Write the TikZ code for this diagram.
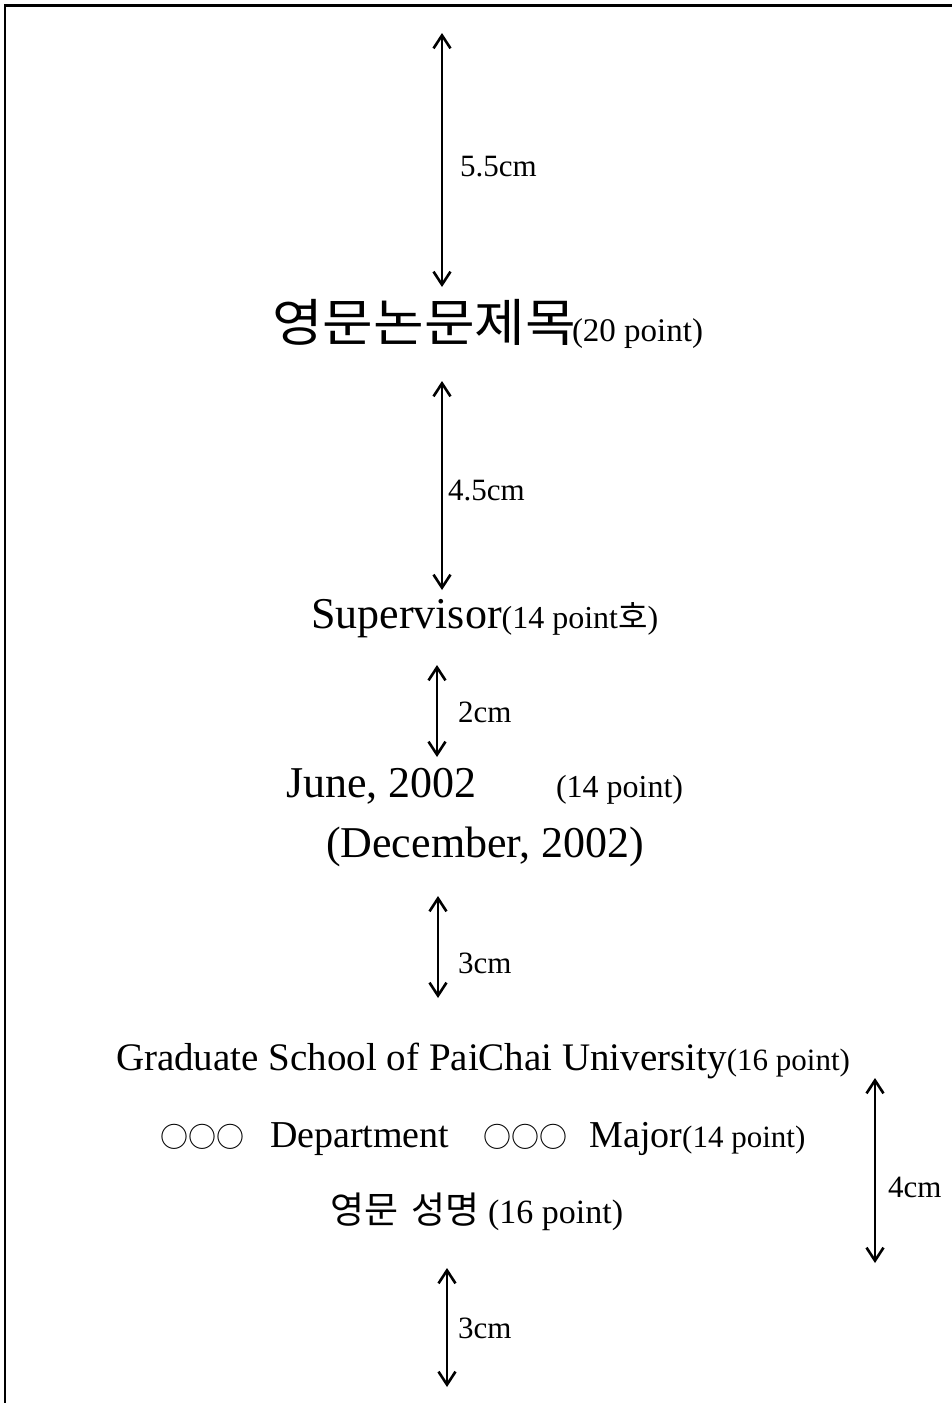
\documentclass[tikz,border=0pt]{standalone}
\usepackage{fontspec}
\usepackage{graphicx}
\setmainfont{Liberation Serif}
\newfontfamily\kr{Noto Sans CJK KR}
\usetikzlibrary{arrows.meta}
\newcommand{\fsz}[1]{\fontsize{#1pt}{#1pt}\selectfont}
\begin{document}
\begin{tikzpicture}[x=1pt,y=-1pt,
  txt/.style={anchor=base west, inner sep=0pt, outer sep=0pt},
  lbl/.style={txt, font=\fsz{31}},
  barb/.tip={Straight Barb[length=13pt,width=17pt,line width=2.6pt]},
  dimarrow/.style={line width=2.6pt, barb-barb}]
\useasboundingbox (0,0) rectangle (952,1403);
% frame
\coordinate (fb) at (5,1403);
\coordinate (ftl) at (5,5.5);
\coordinate (ftl2) at (4,5.5);
\coordinate (ftr) at (952,5.5);
\draw[line width=2pt] (fb) -- (ftl);
\draw[line width=3.5pt] (ftl2) -- (ftr);
% arrows
\coordinate (a1t) at (442,33);   \coordinate (a1b) at (442,287);
\coordinate (a2t) at (442,381);  \coordinate (a2b) at (442,590);
\coordinate (a3t) at (437,665);  \coordinate (a3b) at (437,757);
\coordinate (a4t) at (438,896);  \coordinate (a4b) at (438,998);
\coordinate (a5t) at (875,1078); \coordinate (a5b) at (875,1263);
\coordinate (a6t) at (447,1268); \coordinate (a6b) at (447,1387);
\draw[dimarrow] (a1t) -- (a1b);
\draw[dimarrow] (a2t) -- (a2b);
\draw[dimarrow] (a3t) -- (a3b);
\draw[dimarrow] (a4t) -- (a4b);
\draw[dimarrow] (a5t) -- (a5b);
\draw[dimarrow] (a6t) -- (a6b);
% labels
\node[lbl] (l1) at (460,176) {5.5cm};
\node[lbl] (l2) at (448,500) {4.5cm};
\node[lbl] (l3) at (458,722) {2cm};
\node[lbl] (l4) at (458,973) {3cm};
\node[lbl] (l5) at (888,1197) {4cm};
\node[lbl] (l6) at (458,1338) {3cm};
% texts
\node[txt] (title) at (272,341) {\scalebox{1.08}[1]{\kr\fsz{51}영문논문제목}};
\node[txt] (titlept) at (572,341) {\fsz{33}(20 point)};
\node[txt] (sup) at (311,628) {\fsz{44}Supervisor};
\node[txt] (suppt) at (sup.base east) {\fsz{32}(14 point{\kr 호})};
\node[txt] (june) at (286,797) {\fsz{44}June, 2002};
\node[txt] (junept) at (556,797) {\fsz{32}(14 point)};
\node[txt] (dec) at (326,857) {\fsz{44}(December, 2002)};
\node[txt] (grad) at (116,1070) {\fsz{39}Graduate School of PaiChai University};
\node[txt] (gradpt) at (grad.base east) {\fsz{31}(16 point)};
\node[txt] (dept) at (160,1147) {\fsz{38}{\kr\fsz{28}○○○}\hspace{26pt}Department\hspace{34pt}{\kr\fsz{28}○○○}\hspace{22pt}Major{\fsz{31}(14 point)}};
\node[txt] (name) at (330,1223) {{\kr\fsz{37}영문\hspace{13pt}성명}\hspace{9pt}\fsz{34}(16 point)};
\end{tikzpicture}
\end{document}
